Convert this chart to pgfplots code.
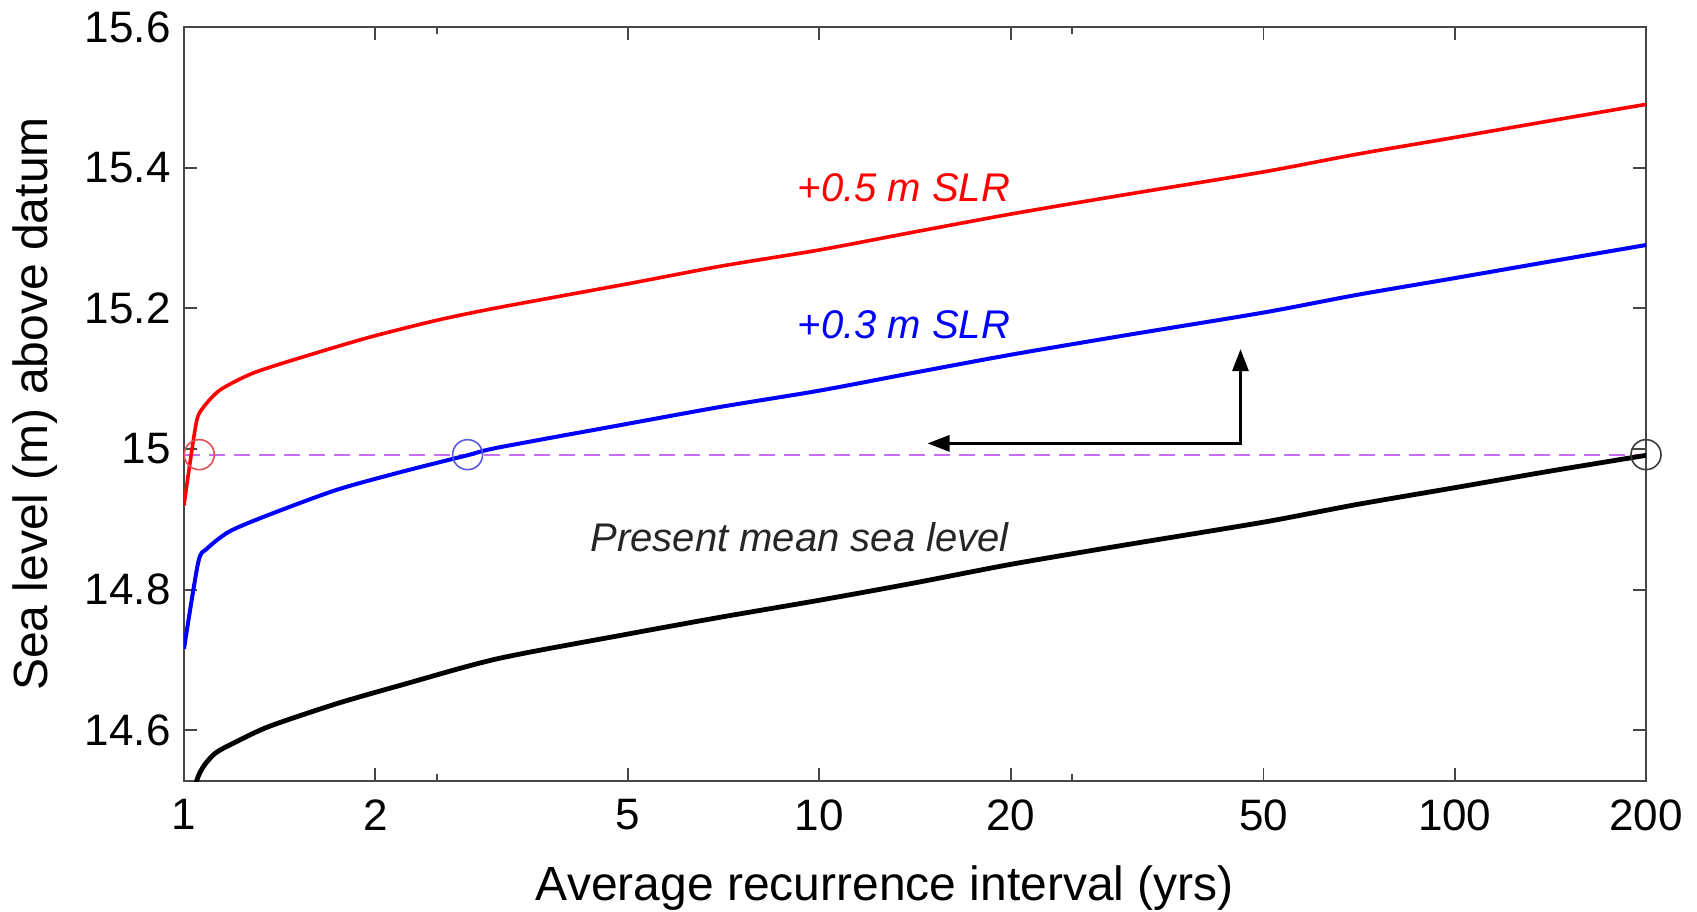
\documentclass[border=0pt]{standalone}
\usepackage{fontspec}
\setmainfont{Liberation Sans}
\usepackage{pgfplots}
\pgfplotsset{compat=1.18}
\usetikzlibrary{arrows.meta}
\definecolor{dashviolet}{RGB}{200,110,255}
\definecolor{axgray}{RGB}{70,70,70}
\definecolor{circred}{RGB}{225,80,80}
\definecolor{circblue}{RGB}{90,90,220}
\definecolor{circblack}{RGB}{60,60,60}
\begin{document}
\begin{tikzpicture}
\useasboundingbox (-92pt,-65pt) rectangle (756.5pt,390.5pt);
\begin{axis}[
  at={(0,0)}, anchor=south west,
  scale only axis, width=731pt, height=377pt,
  xmode=log, xmin=1, xmax=200, ymin=14.528, ymax=15.6,
  xtick={1,2,5,10,20,50,100,200},
  xticklabels={1,2,5,10,20,50,100,200},
  extra x ticks={2.5,25}, extra x tick labels={{},{}},
  extra x tick style={major tick length=3.5pt},
  minor x tick num=0,
  ytick={14.6,14.8,15,15.2,15.4,15.6},
  yticklabels={14.6,14.8,15,15.2,15.4,15.6},
  major tick length=6.5pt,
  tick align=inside,
  axis line style={axgray, line width=1pt},
  every tick/.style={axgray, line width=0.9pt},
  tick label style={font=\fontsize{22}{26}\selectfont, inner sep=0pt},
  xticklabel style={yshift=-9pt},
  yticklabel style={xshift=-6.5pt},
  /pgf/number format/assume math mode=true,
]
% dashed reference level
\addplot[dashviolet, line width=1pt, dash pattern=on 8pt off 4.5pt] coordinates {(1,14.992) (200,14.992)};
% present mean sea level
\addplot[black, line width=2.4pt, smooth, tension=0.45] coordinates {
(1,14.42) (1.047,14.528) (1.112,14.565) (1.21,14.584) (1.365,14.606) (1.74,14.638)
(2.21,14.665) (3.12,14.702) (5,14.737) (7,14.761) (10,14.785) (14,14.809)
(20,14.836) (30,14.863) (50,14.896) (70,14.921) (100,14.945) (140,14.968) (200,14.991)};
% +0.3 m SLR
\addplot[blue, line width=2pt, smooth, tension=0.45] coordinates {
(1,14.716) (1.053,14.839) (1.086,14.858) (1.18,14.883) (1.365,14.907) (1.74,14.942)
(2.21,14.968) (2.79,14.991) (3.12,15.002) (5,15.036) (7,15.06) (10,15.083)
(14,15.108) (20,15.134) (30,15.161) (50,15.194) (70,15.219) (100,15.243) (140,15.266) (200,15.29)};
% +0.5 m SLR
\addplot[red, line width=1.8pt, smooth, tension=0.45] coordinates {
(1,14.92) (1.02,14.975) (1.047,15.04) (1.072,15.059) (1.14,15.084) (1.285,15.108)
(1.54,15.131) (1.96,15.159) (2.5,15.183) (3.12,15.201) (5,15.235) (7,15.26)
(10,15.283) (14,15.308) (20,15.334) (30,15.361) (50,15.394) (70,15.419)
(100,15.443) (140,15.466) (200,15.49)};
% circles
\addplot[only marks, mark=o, mark size=7.5pt, mark options={draw=circred, line width=0.8pt}] coordinates {(1.057,14.992)};
\addplot[only marks, mark=o, mark size=7.5pt, mark options={draw=circblue, line width=0.8pt}] coordinates {(2.795,14.992)};
\addplot[only marks, mark=o, mark size=7.5pt, mark options={draw=circblack, line width=0.8pt}] coordinates {(200,14.992)};
% arrow
\addplot[black, line width=1.5pt, line join=miter, {Triangle[length=11pt,width=8pt]}-{Triangle[length=11pt,width=8pt]}] coordinates {(14.8,15.008) (46,15.008) (46,15.142)};
% labels
\node[anchor=west, inner sep=0pt, text=red, font=\fontsize{20}{24}\selectfont\itshape] at (axis cs:9.23,15.372) {+0.5 m SLR};
\node[anchor=west, inner sep=0pt, text=blue, font=\fontsize{20}{24}\selectfont\itshape] at (axis cs:9.23,15.176) {+0.3 m SLR};
\node[anchor=west, inner sep=0pt, text=black!85, font=\fontsize{20}{24}\selectfont\itshape] at (axis cs:4.36,14.874) {Present mean sea level};
\end{axis}
\node[anchor=base, inner sep=0pt, font=\fontsize{24}{28}\selectfont] at (350.5pt,-59.5pt) {Average recurrence interval (yrs)};
\node[anchor=base, rotate=90, inner sep=0pt, font=\fontsize{24}{28}\selectfont] at (-68pt,188.5pt) {Sea level (m) above datum};
\end{tikzpicture}
\end{document}
